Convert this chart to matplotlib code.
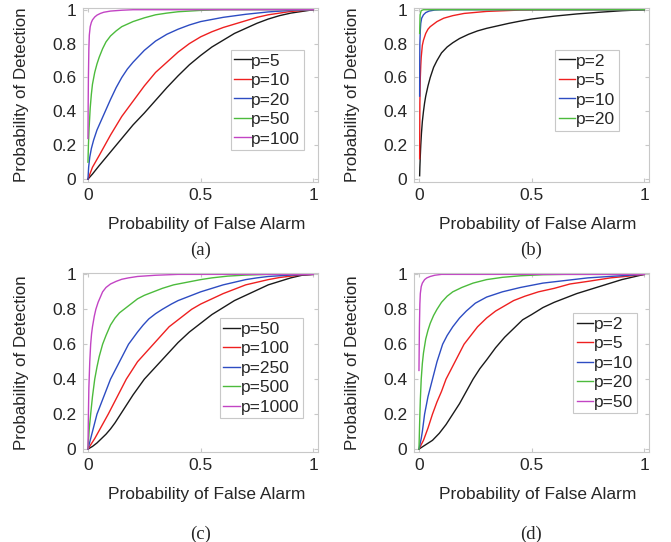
import matplotlib
matplotlib.use("Agg")
import matplotlib.pyplot as plt

# ---- data (Pfa, Pd) ----
# (a)
a_p5_x = [0, 0.02, 0.05, 0.1, 0.15, 0.2, 0.25, 0.3, 0.35, 0.4, 0.45, 0.5, 0.55, 0.6, 0.65, 0.7, 0.75, 0.8, 0.85, 0.9, 0.95, 1]
a_p5_y = [0, 0.03, 0.08, 0.16, 0.24, 0.32, 0.39, 0.465, 0.54, 0.61, 0.675, 0.73, 0.78, 0.82, 0.86, 0.89, 0.92, 0.945, 0.965, 0.98, 0.99, 1]
a_p10_x = [0, 0.01, 0.02, 0.035, 0.05, 0.075, 0.1, 0.125, 0.15, 0.175, 0.2, 0.25, 0.3, 0.35, 0.4, 0.45, 0.5, 0.55, 0.6, 0.65, 0.7, 0.75, 0.8, 0.85, 0.9, 0.95, 1]
a_p10_y = [0, 0.035, 0.07, 0.105, 0.14, 0.2, 0.26, 0.315, 0.37, 0.415, 0.46, 0.55, 0.63, 0.69, 0.75, 0.8, 0.84, 0.87, 0.895, 0.915, 0.935, 0.955, 0.97, 0.98, 0.99, 0.995, 1]
a_p20_x = [0, 0.003, 0.008, 0.015, 0.025, 0.04, 0.06, 0.08, 0.1, 0.125, 0.15, 0.175, 0.2, 0.25, 0.3, 0.35, 0.4, 0.45, 0.5, 0.6, 0.7, 0.8, 0.9, 1]
a_p20_y = [0, 0.07, 0.13, 0.18, 0.23, 0.29, 0.35, 0.41, 0.47, 0.54, 0.6, 0.65, 0.69, 0.76, 0.815, 0.855, 0.885, 0.91, 0.93, 0.955, 0.973, 0.987, 0.996, 1]
a_p50_x = [0, 0.002, 0.005, 0.01, 0.015, 0.02, 0.03, 0.04, 0.05, 0.065, 0.08, 0.1, 0.125, 0.15, 0.2, 0.25, 0.3, 0.35, 0.4, 0.5, 0.6, 1]
a_p50_y = [0.1, 0.2, 0.3, 0.42, 0.5, 0.56, 0.63, 0.68, 0.72, 0.77, 0.81, 0.845, 0.875, 0.9, 0.93, 0.952, 0.97, 0.98, 0.988, 0.996, 1, 1]
a_p100_x = [0, 0.001, 0.002, 0.004, 0.006, 0.01, 0.015, 0.02, 0.03, 0.04, 0.055, 0.07, 0.1, 0.15, 0.2, 1]
a_p100_y = [0.24, 0.45, 0.6, 0.77, 0.85, 0.9, 0.925, 0.94, 0.957, 0.968, 0.978, 0.985, 0.992, 0.997, 1, 1]

# (b)
b_p2_x = [0.003, 0.004, 0.006, 0.008, 0.011, 0.015, 0.02, 0.025, 0.03, 0.04, 0.05, 0.065, 0.08, 0.1, 0.125, 0.15, 0.18, 0.22, 0.26, 0.3, 0.35, 0.4, 0.45, 0.5, 0.6, 0.7, 0.8, 0.9, 1]
b_p2_y = [0.02, 0.07, 0.14, 0.2, 0.27, 0.34, 0.4, 0.45, 0.49, 0.55, 0.6, 0.66, 0.7, 0.745, 0.78, 0.805, 0.83, 0.855, 0.875, 0.89, 0.905, 0.92, 0.933, 0.945, 0.962, 0.975, 0.985, 0.994, 1]
b_p5_x = [0.003, 0.0035, 0.004, 0.006, 0.008, 0.01, 0.015, 0.02, 0.03, 0.04, 0.05, 0.065, 0.08, 0.11, 0.15, 0.2, 0.3, 0.45, 0.6, 1]
b_p5_y = [0.12, 0.3, 0.45, 0.6, 0.67, 0.72, 0.79, 0.82, 0.86, 0.885, 0.9, 0.915, 0.93, 0.95, 0.965, 0.978, 0.99, 0.998, 1, 1]
b_p10_x = [0.003, 0.0035, 0.004, 0.006, 0.008, 0.012, 0.02, 0.03, 0.045, 0.07, 0.1, 1]
b_p10_y = [0.49, 0.7, 0.8, 0.88, 0.92, 0.95, 0.97, 0.983, 0.992, 0.998, 1, 1]
b_p20_x = [0.003, 0.005, 0.01, 0.02, 1]
b_p20_y = [0.86, 0.97, 0.995, 1, 1]

# (c)
c_p50_x = [0, 0.02, 0.04, 0.06, 0.08, 0.1, 0.12, 0.14, 0.17, 0.2, 0.25, 0.3, 0.35, 0.4, 0.45, 0.5, 0.55, 0.6, 0.65, 0.7, 0.75, 0.8, 0.85, 0.9, 0.95, 1]
c_p50_y = [0, 0.015, 0.035, 0.06, 0.085, 0.115, 0.15, 0.19, 0.25, 0.31, 0.4, 0.47, 0.54, 0.61, 0.67, 0.72, 0.77, 0.81, 0.85, 0.88, 0.91, 0.94, 0.96, 0.98, 0.995, 1]
c_p100_x = [0, 0.015, 0.03, 0.045, 0.06, 0.075, 0.09, 0.11, 0.13, 0.15, 0.17, 0.195, 0.22, 0.255, 0.29, 0.325, 0.36, 0.41, 0.46, 0.5, 0.55, 0.6, 0.65, 0.7, 0.75, 0.8, 0.85, 0.9, 0.95, 1]
c_p100_y = [0, 0.03, 0.06, 0.095, 0.13, 0.165, 0.2, 0.25, 0.3, 0.35, 0.4, 0.45, 0.5, 0.55, 0.6, 0.65, 0.7, 0.75, 0.8, 0.83, 0.86, 0.89, 0.915, 0.94, 0.955, 0.97, 0.982, 0.99, 0.997, 1]
c_p250_x = [0, 0.01, 0.02, 0.03, 0.04, 0.055, 0.07, 0.085, 0.1, 0.12, 0.14, 0.16, 0.18, 0.2, 0.22, 0.245, 0.27, 0.3, 0.33, 0.37, 0.4, 0.45, 0.5, 0.55, 0.6, 0.65, 0.7, 0.75, 0.8, 0.9, 1]
c_p250_y = [0, 0.05, 0.1, 0.15, 0.2, 0.25, 0.3, 0.35, 0.4, 0.45, 0.5, 0.55, 0.6, 0.635, 0.67, 0.71, 0.745, 0.775, 0.8, 0.83, 0.85, 0.875, 0.9, 0.92, 0.94, 0.955, 0.97, 0.98, 0.988, 0.996, 1]
c_p500_x = [0, 0.003, 0.006, 0.012, 0.02, 0.03, 0.04, 0.05, 0.065, 0.08, 0.1, 0.12, 0.14, 0.16, 0.19, 0.22, 0.25, 0.29, 0.33, 0.38, 0.44, 0.5, 0.55, 0.62, 0.7, 0.8, 1]
c_p500_y = [0, 0.06, 0.12, 0.2, 0.3, 0.4, 0.47, 0.53, 0.6, 0.65, 0.71, 0.75, 0.78, 0.8, 0.83, 0.86, 0.88, 0.9, 0.92, 0.94, 0.955, 0.97, 0.98, 0.99, 0.996, 1, 1]
c_p1000_x = [0, 0.002, 0.004, 0.008, 0.012, 0.016, 0.02, 0.028, 0.035, 0.045, 0.055, 0.065, 0.08, 0.1, 0.125, 0.15, 0.18, 0.22, 0.3, 0.4, 1]
c_p1000_y = [0, 0.2, 0.35, 0.5, 0.6, 0.66, 0.7, 0.76, 0.8, 0.84, 0.87, 0.9, 0.925, 0.945, 0.96, 0.972, 0.98, 0.988, 0.995, 1, 1]

# (d)
d_p2_x = [0, 0.03, 0.06, 0.09, 0.12, 0.15, 0.18, 0.21, 0.24, 0.27, 0.3, 0.34, 0.38, 0.42, 0.46, 0.5, 0.55, 0.6, 0.65, 0.7, 0.75, 0.8, 0.85, 0.9, 0.95, 1]
d_p2_y = [0, 0.025, 0.05, 0.09, 0.14, 0.2, 0.26, 0.33, 0.4, 0.46, 0.51, 0.58, 0.64, 0.69, 0.74, 0.77, 0.81, 0.84, 0.865, 0.89, 0.91, 0.93, 0.95, 0.97, 0.985, 1]
d_p5_x = [0, 0.02, 0.04, 0.06, 0.08, 0.1, 0.12, 0.14, 0.16, 0.18, 0.2, 0.23, 0.26, 0.3, 0.34, 0.38, 0.42, 0.47, 0.53, 0.6, 0.67, 0.75, 0.85, 0.93, 1]
d_p5_y = [0, 0.05, 0.12, 0.2, 0.27, 0.33, 0.4, 0.45, 0.5, 0.55, 0.6, 0.65, 0.7, 0.75, 0.79, 0.82, 0.85, 0.875, 0.9, 0.92, 0.945, 0.96, 0.98, 0.99, 1]
d_p10_x = [0, 0.01, 0.015, 0.025, 0.04, 0.06, 0.08, 0.105, 0.125, 0.15, 0.18, 0.21, 0.25, 0.3, 0.37, 0.45, 0.55, 0.65, 0.75, 0.87, 1]
d_p10_y = [0, 0.06, 0.1, 0.2, 0.3, 0.4, 0.5, 0.6, 0.65, 0.7, 0.75, 0.79, 0.835, 0.87, 0.9, 0.925, 0.95, 0.965, 0.98, 0.99, 1]
d_p20_x = [0, 0.003, 0.006, 0.01, 0.015, 0.02, 0.03, 0.04, 0.05, 0.065, 0.08, 0.1, 0.125, 0.15, 0.19, 0.24, 0.3, 0.37, 0.45, 0.55, 0.65, 1]
d_p20_y = [0, 0.15, 0.28, 0.4, 0.49, 0.55, 0.63, 0.68, 0.72, 0.765, 0.8, 0.84, 0.875, 0.9, 0.925, 0.95, 0.97, 0.983, 0.992, 0.998, 1, 1]
d_p50_x = [0, 0.002, 0.004, 0.006, 0.01, 0.015, 0.025, 0.035, 0.05, 0.07, 0.1, 1]
d_p50_y = [0.45, 0.7, 0.83, 0.89, 0.93, 0.95, 0.97, 0.98, 0.988, 0.995, 1, 1]

labels_a = ["p=5", "p=10", "p=20", "p=50", "p=100"]
labels_b = ["p=2", "p=5", "p=10", "p=20"]
labels_c = ["p=50", "p=100", "p=250", "p=500", "p=1000"]
labels_d = ["p=2", "p=5", "p=10", "p=20", "p=50"]

colors = ["#1a1a1a", "#ee2020", "#2d4cc2", "#4cbb3c", "#c244c4"]
frame_gray = "#c8c8c8"
text_gray = "#262626"

plt.rcParams["font.family"] = ["Liberation Sans", "DejaVu Sans"]
plt.rcParams["font.size"] = 12.5


def draw_panel(fig, rect, curves, labels, leg_anchor, caption, cap_y, xlab_y):
    ax = fig.add_axes(rect)
    for (x, y), lab, c in zip(curves, labels, colors):
        ax.plot(x, y, color=c, lw=1.0, label=lab)
    ax.set_xlim(-0.022, 1.02)
    ax.set_ylim(-0.017, 1.01)
    ax.set_xticks([0, 0.5, 1])
    ax.set_xticklabels(["0", "0.5", "1"])
    ax.set_yticks([0, 0.2, 0.4, 0.6, 0.8, 1])
    ax.set_yticklabels(["0", "0.2", "0.4", "0.6", "0.8", "1"])
    for s in ax.spines.values():
        s.set_color(frame_gray)
        s.set_linewidth(0.8)
    ax.tick_params(direction="in", length=3, color=frame_gray, labelcolor=text_gray,
                   top=True, right=True, labelsize=12.5)
    ax.tick_params(axis="x", pad=4.5)
    ax.tick_params(axis="y", pad=5)
    ax.set_xlabel("Probability of False Alarm", color=text_gray, fontsize=12.5)
    ax.set_ylabel("Probability of Detection", color=text_gray, fontsize=12.2)
    ax.xaxis.set_label_coords(0.528, xlab_y)
    ax.yaxis.set_label_coords(-0.23, 0.5)
    leg = ax.legend(loc="upper right", bbox_to_anchor=leg_anchor, borderaxespad=0,
                    fancybox=False, framealpha=1, edgecolor=frame_gray,
                    handlelength=0.95, handletextpad=0.05, labelspacing=0.25,
                    borderpad=0.2, fontsize=12.5)
    leg.get_frame().set_linewidth(0.8)
    for t in leg.get_texts():
        t.set_color(text_gray)
    ax.text(0.5, cap_y, caption, transform=ax.transAxes, ha="center", va="center",
            fontsize=13.5, family="Liberation Serif", color=text_gray)
    return ax


fig = plt.figure(figsize=(6.71, 5.42), dpi=100)

w = 0.350
h_top = 0.321
h_bot = 0.331
draw_panel(fig, [0.1237, 0.6642, w, h_top],
           [(a_p5_x, a_p5_y), (a_p10_x, a_p10_y), (a_p20_x, a_p20_y),
            (a_p50_x, a_p50_y), (a_p100_x, a_p100_y)],
           labels_a, (0.940, 0.759), "(a)", -0.39, -0.20)
draw_panel(fig, [0.617, 0.6642, w, h_top],
           [(b_p2_x, b_p2_y), (b_p5_x, b_p5_y), (b_p10_x, b_p10_y), (b_p20_x, b_p20_y)],
           labels_b, (0.872, 0.759), "(b)", -0.39, -0.20)
draw_panel(fig, [0.1237, 0.166, w, h_bot],
           [(c_p50_x, c_p50_y), (c_p100_x, c_p100_y), (c_p250_x, c_p250_y),
            (c_p500_x, c_p500_y), (c_p1000_x, c_p1000_y)],
           labels_c, (0.936, 0.746), "(c)", -0.46, -0.195)
draw_panel(fig, [0.617, 0.166, w, h_bot],
           [(d_p2_x, d_p2_y), (d_p5_x, d_p5_y), (d_p10_x, d_p10_y),
            (d_p20_x, d_p20_y), (d_p50_x, d_p50_y)],
           labels_d, (0.949, 0.773), "(d)", -0.46, -0.195)

fig.savefig("out.png", dpi=100)
